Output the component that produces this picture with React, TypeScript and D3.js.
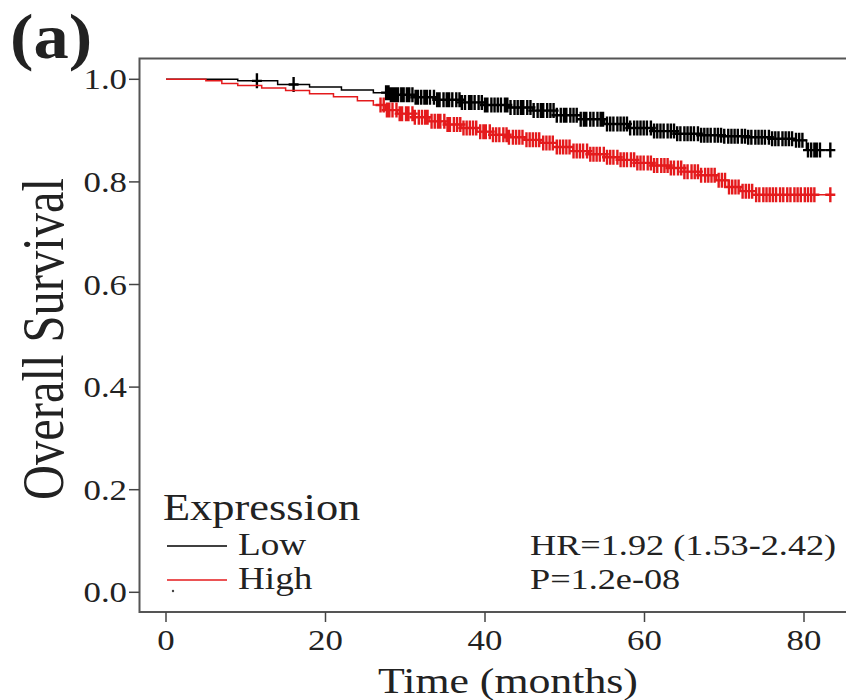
import React from "react";
import * as d3 from "d3";

// Kaplan-Meier step data (time in months, survival)
const lowTimes = [0, 9, 14, 18, 22, 26, 28, 31, 34, 37, 40, 43, 46, 49, 52, 55, 58, 61, 64, 67, 70, 73, 76, 79, 80.3];
const lowSurv = [1.0, 0.997, 0.99, 0.985, 0.979, 0.974, 0.97, 0.965, 0.96, 0.955, 0.95, 0.945, 0.939, 0.93, 0.922, 0.913, 0.905, 0.899, 0.894, 0.891, 0.889, 0.887, 0.884, 0.881, 0.862];
const highTimes = [0, 5, 7, 9, 12, 15, 18, 21, 24, 26, 27.5, 29, 31, 33, 35, 37, 39, 41, 43, 45, 47, 49, 51, 53, 55, 57, 59, 61, 63, 65, 67, 69, 70.5, 72, 74];
const highSurv = [1.0, 0.997, 0.992, 0.988, 0.983, 0.978, 0.972, 0.966, 0.958, 0.95, 0.94, 0.933, 0.926, 0.918, 0.912, 0.905, 0.898, 0.892, 0.887, 0.882, 0.876, 0.868, 0.86, 0.854, 0.848, 0.843, 0.837, 0.832, 0.827, 0.82, 0.813, 0.803, 0.79, 0.782, 0.775];
const endTime = 83.3;

// censoring times
const lowCensor = [11.4, 16.0, 27.6, 27.9, 28.2, 28.5, 28.8, 29.1, 29.5, 29.8, 30.2, 30.5, 30.9, 31.3, 31.6, 32.0, 32.4, 32.7, 33.1, 33.6, 34.0, 34.3, 34.8, 35.2, 35.5, 35.9, 36.4, 36.8, 37.1, 37.5, 38.0, 38.3, 38.7, 39.2, 39.6, 40.0, 40.3, 40.8, 41.2, 41.6, 42.0, 42.5, 42.8, 43.2, 43.7, 44.1, 44.5, 44.8, 45.3, 45.7, 46.1, 46.6, 47.0, 47.3, 47.8, 48.2, 48.6, 49.0, 49.5, 49.9, 50.2, 50.7, 51.1, 51.5, 52.0, 52.4, 52.7, 53.2, 53.6, 54.1, 54.5, 54.8, 55.3, 55.7, 56.1, 56.6, 57.0, 57.4, 57.8, 58.2, 58.7, 59.1, 59.5, 59.9, 60.3, 60.8, 61.2, 61.6, 62.0, 62.4, 62.9, 63.3, 63.7, 64.1, 64.5, 65.0, 65.4, 65.8, 66.2, 66.7, 67.1, 67.5, 67.9, 68.3, 68.8, 69.2, 69.6, 70.0, 70.5, 70.9, 71.3, 71.7, 72.2, 72.6, 73.0, 73.4, 73.9, 74.3, 74.7, 75.1, 75.6, 76.0, 76.4, 76.8, 77.3, 77.7, 78.1, 78.5, 79.0, 79.4, 79.8, 80.5, 80.9, 81.3, 81.6, 82.0, 83.3];
const highCensor = [26.9, 27.3, 27.7, 28.0, 28.4, 28.9, 29.3, 29.6, 30.1, 30.4, 30.9, 31.2, 31.7, 32.1, 32.5, 32.8, 33.3, 33.7, 34.1, 34.4, 34.9, 35.3, 35.6, 36.1, 36.5, 36.9, 37.3, 37.7, 38.1, 38.5, 38.9, 39.4, 39.8, 40.1, 40.6, 41.0, 41.4, 41.8, 42.3, 42.7, 43.0, 43.5, 43.9, 44.3, 44.7, 45.2, 45.6, 46.0, 46.4, 46.8, 47.3, 47.7, 48.1, 48.5, 49.0, 49.4, 49.8, 50.2, 50.6, 51.1, 51.5, 51.9, 52.3, 52.8, 53.2, 53.6, 54.0, 54.4, 54.9, 55.3, 55.7, 56.1, 56.6, 57.0, 57.4, 57.8, 58.3, 58.7, 59.1, 59.5, 59.9, 60.4, 60.8, 61.2, 61.6, 62.1, 62.5, 62.9, 63.3, 63.7, 64.2, 64.6, 65.0, 65.4, 65.9, 66.3, 66.7, 67.1, 67.6, 68.0, 68.4, 68.8, 69.3, 69.7, 70.1, 70.6, 71.0, 71.4, 71.8, 72.3, 72.7, 73.1, 73.5, 74.0, 74.4, 74.9, 75.3, 75.7, 76.1, 76.5, 77.0, 77.4, 77.9, 78.3, 78.8, 79.2, 79.6, 80.1, 80.5, 80.9, 81.3, 83.3];

const xTicks = [0, 20, 40, 60, 80];
const yTicks = [0, 0.2, 0.4, 0.6, 0.8, 1.0];
const groups = ["Low", "High"];
const groupColors = ["#000000", "#e41a1c"];
const statLines = ["HR=1.92 (1.53-2.42)", "P=1.2e-08"];

const FONT = "Liberation Serif, Times New Roman, Tinos, Times, serif";
const SX = 1.2;

export default function App() {
  const x = d3.scaleLinear().domain([0, 80]).range([166, 804]);
  const y = d3.scaleLinear().domain([0, 1]).range([592.3, 79.3]);

  const mkSeries = (times: number[], surv: number[]) => {
    const pts: [number, number][] = times.map((t, i) => [t, surv[i]]);
    pts.push([endTime, surv[surv.length - 1]]);
    return pts;
  };
  const survAt = (times: number[], surv: number[], t: number) => {
    let s = surv[0];
    for (let i = 0; i < times.length; i++) if (times[i] <= t) s = surv[i];
    return s;
  };
  const line = d3
    .line<[number, number]>()
    .x((d) => x(d[0]))
    .y((d) => y(d[1]))
    .curve(d3.curveStepAfter);

  const series = [
    { times: lowTimes, surv: lowSurv, censor: lowCensor, color: groupColors[0] },
    { times: highTimes, surv: highSurv, censor: highCensor, color: groupColors[1] },
  ];

  const plusPath = (cx: number, cy: number) =>
    `M${cx - 5},${cy}H${cx + 5}M${cx},${cy - 7.5}V${cy + 7.5}`;

  return (
    <svg width={846} height={700} style={{ position: "absolute", left: 0, top: 0, background: "#fff" }}>
      <rect x={0} y={0} width={846} height={700} fill="#fff" />
      {/* panel label */}
      <text transform={`translate(10,58) scale(1.1,1)`} fontFamily={FONT} fontSize={64} fontWeight="bold" fill="#222">(a)</text>

      {/* plot box */}
      <rect x={139.5} y={58.5} width={720} height={553.5} fill="none" stroke="#555" strokeWidth={2} />

      {/* y axis ticks */}
      {yTicks.map((t) => (
        <g key={"y" + t}>
          <line x1={129} x2={139.5} y1={y(t)} y2={y(t)} stroke="#444" strokeWidth={1.5} />
          <text transform={`translate(127,${y(t)}) scale(${SX},1)`} textAnchor="end" dy="0.35em" fontFamily={FONT} fontSize={29} fill="#222">
            {t.toFixed(1)}
          </text>
        </g>
      ))}
      {/* x axis ticks */}
      {xTicks.map((t) => (
        <g key={"x" + t}>
          <line x1={x(t)} x2={x(t)} y1={612} y2={622} stroke="#444" strokeWidth={1.5} />
          <text transform={`translate(${x(t)},650) scale(${SX},1)`} textAnchor="middle" fontFamily={FONT} fontSize={29} fill="#222">
            {t}
          </text>
        </g>
      ))}

      {/* axis titles */}
      <text transform={`translate(508,693) scale(${SX},1)`} textAnchor="middle" fontFamily={FONT} fontSize={36.5} fill="#222">
        Time (months)
      </text>
      <text transform={`translate(63,339) rotate(-90) scale(1,${SX})`} textAnchor="middle" fontFamily={FONT} fontSize={48.5} fill="#222">
        Overall Survival
      </text>

      {/* curves */}
      {series.map((s, i) => (
        <g key={"s" + i}>
          <path d={line(mkSeries(s.times, s.surv)) || ""} fill="none" stroke={s.color} strokeWidth={1.5} />
          <path
            d={s.censor.map((t) => plusPath(x(t), y(survAt(s.times, s.surv, t)))).join("")}
            fill="none"
            stroke={s.color}
            strokeWidth={2.4}
          />
        </g>
      ))}

      {/* legend */}
      <text transform={`translate(163,520) scale(${SX},1)`} fontFamily={FONT} fontSize={37} fill="#222">Expression</text>
      {groups.map((g, i) => (
        <g key={g}>
          <line x1={167} x2={227} y1={546 + i * 34} y2={546 + i * 34} stroke={groupColors[i]} strokeWidth={1.5} />
          <text transform={`translate(238,${555 + i * 34}) scale(${SX},1)`} fontFamily={FONT} fontSize={31} fill="#222">
            {g}
          </text>
        </g>
      ))}
      <circle cx={173} cy={591} r={1.2} fill="#444" />
      {statLines.map((s, i) => (
        <text key={s} transform={`translate(530,${555 + i * 34}) scale(${SX},1)`} fontFamily={FONT} fontSize={30.2} fill="#222">
          {s}
        </text>
      ))}
    </svg>
  );
}
